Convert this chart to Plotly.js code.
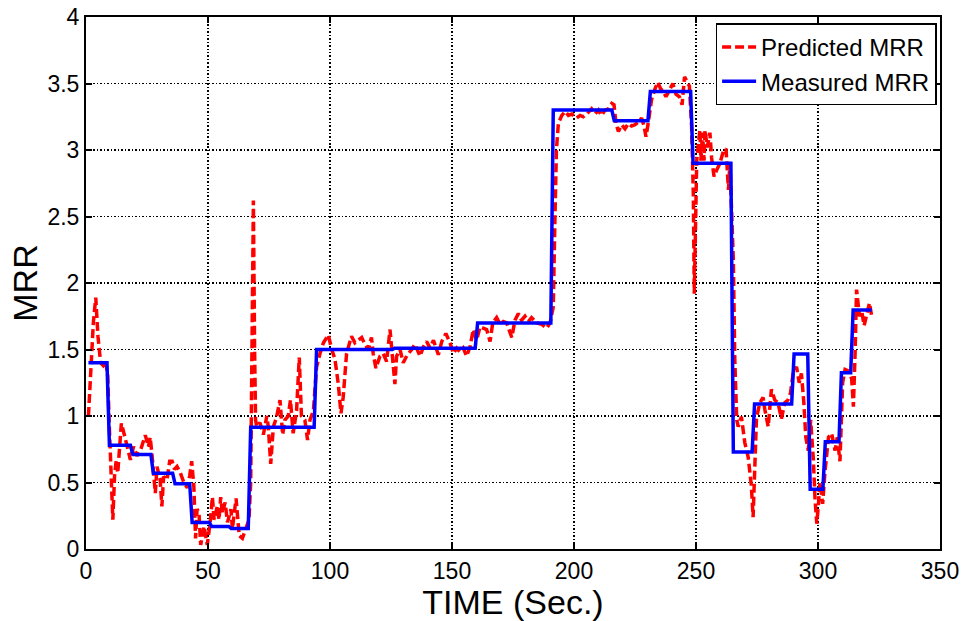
<!DOCTYPE html>
<html>
<head>
<meta charset="utf-8">
<script src="https://cdn.plot.ly/plotly-3.0.1.min.js"></script>
<style>
  html, body { margin: 0; padding: 0; background: #fff; }
  #chart { width: 967px; height: 621px; }
</style>
</head>
<body>
<div id="chart"></div>
<script>
// Predicted material removal rate (model output), sampled over time
const predTime = [
  1, 2, 3, 4, 4.9, 6, 7, 8, 8.9, 9.5, 10.2, 11, 11.7, 12.4, 13, 14.5, 15.9, 17, 18.2, 19.5,
  20.9, 22.3, 23.3, 24.3, 25.6, 26.3, 27, 28.4, 29.1, 30.4, 31.1, 31.8, 33.2, 34.3, 35.3, 36.3, 37.3, 38.7, 40.1, 41.5,
  42.5, 43.3, 44.2, 44.9, 45.5, 46.3, 47, 48.4, 49.7, 51, 51.8, 52.5, 53.8, 54.5, 55.2, 55.9, 57, 58, 59.4, 60,
  61.5, 62.8, 64.1, 65.5, 66.8, 67.5, 68, 68.6, 69.1, 69.5, 70, 71.3, 72.7, 74.1, 74.7, 75.7, 76.8, 78.1, 79.5, 80.6,
  81.5, 82.9, 83.8, 84.9, 86.3, 87.4, 88.3, 89.7, 90.8, 91.8, 93.2, 94.5, 95.9, 97.3, 99.3, 100.7, 102, 103.4, 104.5, 105.4,
  106.8, 108.8, 110.2, 111.6, 113, 114.3, 115.7, 117, 117.7, 118.8, 120.5, 121.8, 123.2, 124.6, 125.2, 126.6, 127.3, 128.7, 130, 131.7,
  133.5, 134.8, 136.9, 138.3, 139.6, 141, 142.4, 144.4, 145.8, 147.5, 149.2, 150.6, 151.9, 153.3, 154.6, 156, 157.4, 158.7, 160.1, 161.5,
  162.8, 164.2, 165.6, 166.7, 168.3, 169.7, 171, 172.4, 174.5, 175.8, 177.2, 178.5, 179.9, 181.3, 182.6, 184.7, 186.7, 188.8, 190.2, 191.5,
  192.2, 192.8, 193.6, 195, 196.4, 197.7, 199.1, 201.1, 202.5, 203.8, 205.2, 207.2, 208.6, 210, 211.3, 212.7, 214.1, 215.5, 216.4, 217.2,
  218.2, 219.5, 220.9, 222.3, 223.6, 225, 226.4, 227.7, 228.7, 229.5, 230.4, 231.8, 233.2, 234.3, 235.5, 236.6, 237.7, 239.1, 240.5, 241.8,
  243.2, 244.3, 245.3, 246.2, 247.3, 248.2, 248.9, 249.3, 249.9, 250.3, 251, 251.6, 252, 252.7, 253.3, 253.7, 254.6, 255.7, 256.4, 257.4,
  258.5, 259.8, 261.2, 262.3, 263.3, 263.9, 265.3, 265.9, 266.7, 267.3, 268.6, 270, 271.4, 272.7, 273.4, 274.1, 274.8, 276.2, 277.5, 278.2,
  279.6, 280.9, 282.3, 283.6, 285, 286.4, 287.7, 288.7, 289.8, 291.2, 292.3, 293.2, 294.2, 295, 296, 297, 298.1, 298.8, 299.5, 300.2,
  300.8, 301.9, 302.9, 304.3, 305.6, 307, 307.9, 309, 310.1, 311.1, 312.4, 313.8, 314.5, 315.2, 315.8, 317, 317.9, 318.9, 320, 321.1,
  322
];
const predMRR = [
  1.00, 1.35, 1.70, 1.89, 1.60, 1.40, 1.38, 1.42, 1.30, 0.95, 0.65, 0.22, 0.55, 0.67, 0.57, 0.945, 0.845, 0.77, 0.67, 0.77,
  0.70, 0.74, 0.80, 0.855, 0.77, 0.84, 0.72, 0.42, 0.62, 0.52, 0.32, 0.545, 0.52, 0.66, 0.66, 0.60, 0.62, 0.57, 0.50, 0.46,
  0.55, 0.66, 0.47, 0.08, 0.30, 0.27, 0.03, 0.17, 0.03, 0.22, 0.39, 0.22, 0.32, 0.22, 0.39, 0.27, 0.35, 0.20, 0.30, 0.15,
  0.38, 0.10, 0.08, 0.15, 0.22, 0.50, 1.50, 2.62, 1.50, 0.97, 0.92, 0.95, 0.86, 1.00, 0.92, 0.64, 0.92, 0.99, 1.12, 0.86,
  0.97, 1.00, 1.12, 0.87, 1.04, 1.44, 1.00, 0.97, 0.82, 0.97, 1.04, 1.37, 1.47, 1.55, 1.61, 1.50, 1.43, 1.24, 1.02, 1.14,
  1.47, 1.60, 1.55, 1.57, 1.59, 1.54, 1.50, 1.59, 1.47, 1.36, 1.45, 1.47, 1.41, 1.65, 1.50, 1.24, 1.45, 1.50, 1.40, 1.46,
  1.50, 1.54, 1.45, 1.52, 1.56, 1.51, 1.57, 1.46, 1.56, 1.62, 1.55, 1.47, 1.51, 1.48, 1.51, 1.45, 1.52, 1.65, 1.57, 1.67,
  1.66, 1.65, 1.56, 1.70, 1.74, 1.69, 1.71, 1.70, 1.59, 1.72, 1.77, 1.72, 1.75, 1.71, 1.74, 1.70, 1.69, 1.66, 1.70, 1.82,
  2.50, 3.00, 3.20, 3.26, 3.29, 3.26, 3.27, 3.24, 3.26, 3.25, 3.27, 3.31, 3.27, 3.30, 3.26, 3.30, 3.31, 3.35, 3.34, 3.20,
  3.14, 3.19, 3.16, 3.20, 3.18, 3.19, 3.21, 3.24, 3.18, 3.10, 3.20, 3.38, 3.46, 3.51, 3.46, 3.44, 3.40, 3.45, 3.50, 3.42,
  3.40, 3.34, 3.55, 3.52, 3.48, 3.18, 2.67, 1.92, 2.42, 2.92, 3.05, 3.15, 2.92, 3.13, 2.92, 3.15, 3.02, 3.13, 2.94, 2.80,
  2.85, 2.90, 2.99, 3.01, 2.70, 2.90, 2.17, 1.42, 0.97, 0.92, 0.995, 0.80, 0.69, 0.47, 0.24, 0.64, 0.99, 1.10, 1.14, 1.05,
  0.92, 1.20, 1.12, 1.10, 0.98, 1.10, 1.12, 1.17, 1.32, 1.37, 1.25, 1.32, 1.10, 0.84, 0.74, 0.97, 0.67, 0.37, 0.19, 0.34,
  0.50, 0.34, 0.59, 0.84, 0.87, 0.74, 0.84, 0.66, 1.25, 1.35, 1.34, 1.28, 1.07, 1.47, 1.95, 1.75, 1.79, 1.68, 1.78, 1.85,
  1.75
];

// Measured material removal rate (step changes between cutting conditions)
const measTime = [
  1, 8.6, 9.6, 18.2, 19.2, 26.6, 27.6, 35.5, 36.5, 42.5, 43.5, 50.5, 51.5, 58.5, 59.5, 66.5, 67.5, 93.5, 94.5, 125.5,
  126.5, 159.5, 160.5, 190.5, 191.5, 215.5, 216.5, 230.3, 231.3, 247.8, 248.8, 264.3, 265.3, 273, 274, 289.2, 290.2, 295.8, 296.8, 302,
  303, 308.6, 309.6, 313.4, 314.4, 322
];
const measMRR = [
  1.40, 1.40, 0.78, 0.78, 0.71, 0.71, 0.57, 0.57, 0.49, 0.49, 0.20, 0.20, 0.17, 0.17, 0.155, 0.155, 0.915, 0.915, 1.50, 1.50,
  1.51, 1.51, 1.70, 1.70, 3.30, 3.30, 3.22, 3.22, 3.44, 3.44, 2.90, 2.90, 0.73, 0.73, 1.09, 1.09, 1.466, 1.466, 0.45, 0.45,
  0.807, 0.807, 1.326, 1.326, 1.797, 1.797
];

const xTicks = [0, 50, 100, 150, 200, 250, 300, 350];
const yTicks = [0, 0.5, 1, 1.5, 2, 2.5, 3, 3.5, 4];
const yTickText = ['0', '0.5', '1', '1.5', '2', '2.5', '3', '3.5', '4'];

const FONT = 'Arial, "Liberation Sans", Helvetica, sans-serif';

const traces = [
  {
    x: predTime, y: predMRR, type: 'scatter', mode: 'lines',
    name: 'Predicted MRR',
    line: { color: '#ff0000', width: 3.5, dash: '9px,4px' }
  },
  {
    x: measTime, y: measMRR, type: 'scatter', mode: 'lines',
    name: 'Measured MRR',
    line: { color: '#0000ff', width: 3.5 }
  }
];

const axisCommon = {
  showline: true, linecolor: '#000', linewidth: 2, mirror: 'ticks',
  ticks: 'inside', ticklen: 6, tickwidth: 2, tickcolor: '#000',
  showgrid: true, gridcolor: '#000', gridwidth: 1.2, griddash: '1.5px,2px',
  zeroline: false, tickfont: { family: FONT, size: 23, color: '#000' },
  automargin: false
};

const layout = {
  width: 967, height: 621,
  paper_bgcolor: '#fff', plot_bgcolor: '#fff',
  margin: { l: 86, r: 27, t: 17, b: 72 },
  showlegend: true,
  legend: {
    x: 0.996, xanchor: 'right', y: 0.988, yanchor: 'top',
    bgcolor: '#fff', bordercolor: '#000', borderwidth: 1.5,
    font: { family: FONT, size: 24, color: '#000' },
    itemwidth: 34, tracegroupgap: 0
  },
  xaxis: Object.assign({}, axisCommon, {
    range: [0, 350], tickvals: xTicks,
    title: { text: 'TIME (Sec.)', font: { family: FONT, size: 34, color: '#000' }, standoff: 0 }
  }),
  yaxis: Object.assign({}, axisCommon, {
    range: [0, 4], tickvals: yTicks, ticktext: yTickText,
    title: { text: 'MRR', font: { family: FONT, size: 34, color: '#000' }, standoff: 0 }
  })
};

Plotly.newPlot('chart', traces, layout, { displayModeBar: false, staticPlot: true });
</script>
</body>
</html>
